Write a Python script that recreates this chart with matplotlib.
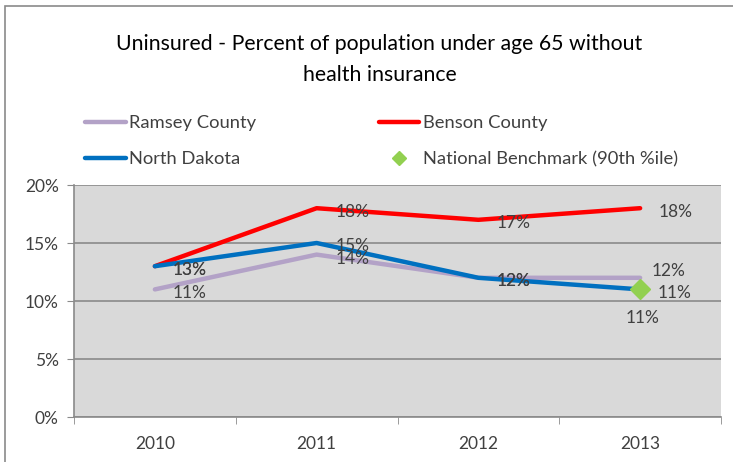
import matplotlib.pyplot as plt
from matplotlib.lines import Line2D
from matplotlib.patches import Rectangle

plt.rcParams['font.family'] = ['Lato', 'DejaVu Sans']

years = ['2010', '2011', '2012', '2013']
ramsey = [11, 14, 12, 12]
benson = [13, 18, 17, 18]
north_dakota = [13, 15, 12, 11]
benchmark_year = 3
benchmark = 11
y_ticks = [0, 5, 10, 15, 20]

W, H = 733, 462
fig = plt.figure(figsize=(W / 100, H / 100), dpi=100)

# outer chart frame (runs off the right and bottom edges)
fig.add_artist(Rectangle((5 / W, -0.1), 1.2, 1 - 6 / H + 0.1, transform=fig.transFigure,
                         fill=False, edgecolor='#8a8a8a', linewidth=1.2))

ax = fig.add_axes([74 / W, 1 - 417 / H, (721 - 74) / W, (417 - 185) / H])
ax.set_facecolor('#d9d9d9')

x = list(range(len(years)))
grey = '#404040'

l_ram, = ax.plot(x, ramsey, color='#b3a2c7', lw=3.2, solid_capstyle='round', zorder=3)
l_ben, = ax.plot(x, benson, color='#ff0000', lw=3.2, solid_capstyle='round', zorder=4)
l_nd, = ax.plot(x, north_dakota, color='#0070c0', lw=3.2, solid_capstyle='round', zorder=5)
l_bm, = ax.plot([benchmark_year], [benchmark], marker='D', ms=10, color='#92d050',
                linestyle='none', zorder=6)

def label(vals, xs, offs):
    for xi, v, (dx, dy) in zip(xs, vals, offs):
        ax.annotate(f'{v}%', (xi, v), xytext=(dx, dy), textcoords='offset pixels',
                    ha='center', va='center', fontsize=12.5, color=grey, zorder=7)

label(ramsey, x, [(35, -4), (36, -4), (35, -3), (28, 7)])
label(benson, x, [(35, -4), (36, -4), (35, -3), (35, -4)])
label(north_dakota, x, [(35, -4), (36, -3), (35, -3), (34, -4)])
label([benchmark], [benchmark_year], [(2, -29)])

ax.set_xlim(-0.5, 3.5)
ax.set_ylim(0, 20)
ax.set_yticks(y_ticks)
ax.set_yticklabels([f'{t}%' for t in y_ticks])
ax.set_xticks(x)
ax.set_xticklabels(years)
ax.set_xticks([-0.5, 0.5, 1.5, 2.5, 3.5], minor=True)
ax.tick_params(axis='x', which='major', length=0, pad=14, labelsize=12.5, labelcolor=grey)
ax.tick_params(axis='x', which='minor', length=5, color='#8a8a8a', direction='out')
ax.tick_params(axis='y', length=5, color='#8a8a8a', pad=6, labelsize=12.5, labelcolor=grey)
ax.grid(axis='y', color='#8a8a8a', linewidth=1.2, zorder=1)
ax.set_axisbelow(True)
for s in ['top', 'right']:
    ax.spines[s].set_visible(False)
for s in ['left', 'bottom']:
    ax.spines[s].set_color('#8a8a8a')
    ax.spines[s].set_linewidth(1.2)

fig.text(379 / W, 1 - 44 / H, 'Uninsured - Percent of population under age 65 without',
         ha='center', va='center', fontsize=15.3, color='black')
fig.text(380 / W, 1 - 75 / H, 'health insurance',
         ha='center', va='center', fontsize=15.3, color='black')

handles = [l_ram, l_nd, l_ben,
           Line2D([], [], marker='D', ms=7, color='#92d050', linestyle='none')]
names = ['Ramsey County', 'North Dakota', 'Benson County', 'National Benchmark (90th %ile)']
fig.legend(handles, names, ncol=2, loc='upper left', bbox_to_anchor=(76 / W, 1 - 106 / H),
           frameon=False, fontsize=13.2, handlelength=2.2, handletextpad=0.2,
           columnspacing=6.7, labelspacing=1.1, borderpad=0, labelcolor=grey)

fig.savefig('out.png', dpi=100)
